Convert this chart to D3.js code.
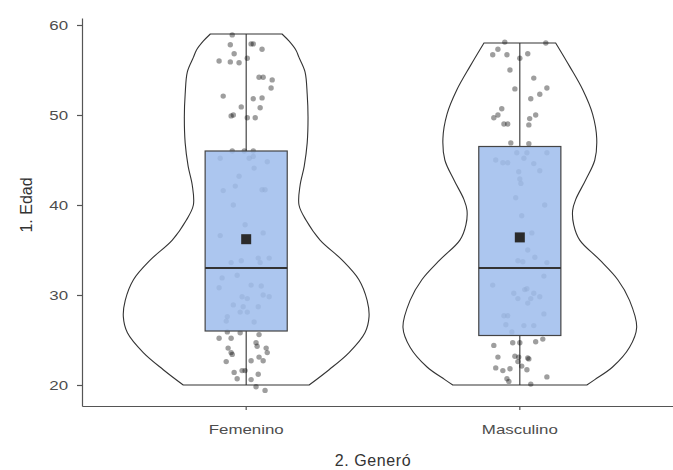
<!DOCTYPE html>
<html>
<head>
<meta charset="utf-8">
<script src="https://cdn.jsdelivr.net/npm/d3@7"></script>
<style>
  body { margin: 0; background: #fff; }
  svg { display: block; font-family: "Liberation Sans", Arial, sans-serif; }
  .axis path, .axis line { stroke: #555; stroke-width: 1.2; }
  .axis text { fill: #4d4d4d; font-size: 13.5px; }
  .axis-title { fill: #333; font-size: 16px; }
</style>
</head>
<body>
<div id="chart"></div>
<script>
// categories and summary stats
var categories = ["Femenino", "Masculino"];
var whiskerLow = [20, 20];
var q1 = [26, 25.5];
var median = [33, 33];
var q3 = [46, 46.5];
var whiskerHigh = [59, 58];
var means = [36.2, 36.4];
var yTicks = [20, 30, 40, 50, 60];

// violin outline: [age, half width in category units]
var violinFem = [[20, 0.230], [21.7, 0.303], [23.6, 0.376], [25.8, 0.434], [27.6, 0.449], [29.4, 0.442],
  [31.7, 0.412], [33.9, 0.350], [36.1, 0.270], [38.3, 0.219], [40.0, 0.193], [42.2, 0.197], [44.3, 0.212],
  [46.9, 0.223], [49.8, 0.226], [52.3, 0.223], [54.8, 0.215], [56.4, 0.193], [57.2, 0.182], [58.2, 0.157], [59, 0.131]];
var violinMasc = [[20, 0.245], [20.6, 0.274], [22.0, 0.339], [24.2, 0.401], [26.4, 0.427], [29.4, 0.401],
  [31.7, 0.358], [33.9, 0.292], [36.1, 0.219], [37.8, 0.197], [39.4, 0.193], [40.6, 0.204], [42.8, 0.241],
  [45.0, 0.274], [47.4, 0.281], [50.1, 0.266], [52.8, 0.230], [55.4, 0.182], [58, 0.131]];

// jittered raw points: [offset in category units, age]
var pointsFem = [[-0.051, 58.9], [-0.058, 57.8], [0.018, 57.9], [0.026, 57.9], [0.058, 57.3], [-0.044, 56.8],
  [-0.099, 56.0], [-0.058, 55.9], [-0.026, 55.8], [0.004, 56.3], [0.047, 54.2], [0.062, 54.2], [0.095, 53.9],
  [0.091, 53.0], [-0.084, 52.1], [0.026, 51.8], [0.058, 51.9], [-0.018, 50.9], [0.051, 50.8], [-0.055, 49.9],
  [-0.047, 50.0], [0.004, 49.7], [0.033, 49.7], [-0.051, 46.0], [-0.007, 46.0], [0.026, 46.0], [-0.095, 45.2],
  [0.011, 45.2], [0.026, 45.4], [0.077, 44.8], [0.029, 44.1], [-0.026, 43.2], [-0.040, 42.1], [-0.084, 41.6],
  [0.058, 41.7], [0.069, 41.7], [-0.047, 40.0], [-0.004, 37.8], [-0.095, 36.6], [0.062, 36.9], [-0.055, 33.6],
  [-0.018, 33.8], [0.044, 34.1], [0.084, 34.1], [0.051, 33.6], [-0.088, 31.9], [-0.033, 32.2], [0.018, 31.1],
  [0.055, 31.0], [-0.099, 30.8], [-0.015, 29.8], [0.004, 29.6], [0.062, 30.0], [0.084, 29.8], [-0.047, 28.9],
  [-0.011, 28.7], [0.044, 28.7], [-0.022, 28.1], [0.004, 28.1], [-0.069, 27.6], [-0.073, 27.1], [0.029, 27.0],
  [-0.069, 25.9], [-0.022, 25.8], [-0.099, 25.2], [-0.055, 25.2], [0.047, 25.6], [0.036, 24.7], [0.040, 24.3],
  [-0.066, 24.1], [-0.055, 23.6], [-0.051, 23.4], [0.073, 24.1], [0.077, 23.6], [-0.073, 22.6], [0.018, 22.7],
  [0.047, 23.1], [0.062, 22.7], [-0.044, 21.4], [-0.015, 21.6], [-0.004, 21.6], [0.044, 21.2], [-0.033, 20.7],
  [0.018, 20.6], [0.036, 19.8], [0.069, 19.4]];
var pointsMasc = [[-0.055, 58.1], [0.095, 58.0], [-0.080, 57.3], [-0.099, 56.7], [-0.047, 56.7], [0.0, 56.3],
  [0.029, 56.8], [-0.036, 55.0], [0.051, 54.1], [-0.018, 52.9], [0.099, 53.0], [0.073, 52.3], [0.040, 51.8],
  [-0.066, 50.7], [-0.080, 50.0], [-0.095, 49.7], [0.058, 50.0], [0.036, 49.6], [0.033, 48.9], [-0.058, 49.0],
  [-0.044, 49.0], [-0.033, 46.9], [0.033, 46.8], [-0.011, 45.8], [0.026, 45.8], [0.015, 45.2], [0.099, 45.8],
  [-0.088, 45.0], [-0.062, 44.7], [-0.044, 44.7], [0.051, 44.6], [0.073, 43.8], [-0.004, 43.7], [0.0, 42.9],
  [0.004, 42.4], [-0.015, 40.8], [0.091, 40.0], [0.007, 38.8], [0.044, 36.9], [0.029, 35.0], [0.055, 34.2],
  [-0.007, 33.8], [0.011, 33.7], [0.099, 33.6], [0.088, 32.1], [-0.099, 31.1], [0.018, 30.6], [0.026, 30.7],
  [-0.022, 30.2], [0.051, 30.2], [0.073, 29.8], [-0.007, 29.6], [0.040, 29.6], [0.029, 29.1], [0.088, 27.9],
  [-0.058, 27.7], [-0.044, 27.7], [-0.051, 26.7], [0.015, 26.6], [0.051, 26.6], [-0.029, 25.9], [-0.095, 24.4],
  [-0.026, 24.7], [0.0, 24.7], [0.058, 24.8], [0.084, 25.1], [-0.080, 23.1], [-0.018, 23.2], [-0.004, 23.1],
  [0.029, 23.0], [0.033, 22.9], [-0.007, 22.6], [0.007, 22.1], [-0.088, 21.9], [-0.062, 21.6], [-0.036, 21.8],
  [0.026, 21.7], [-0.047, 20.7], [-0.040, 20.4], [0.099, 20.9], [0.040, 20.1]];

var violins = [violinFem, violinMasc];
var points = [pointsFem, pointsMasc];

var width = 673, height = 470;
var boxHalf = 0.15;
var stretch = 1.25; // tick labels are drawn wide in the original

var svg = d3.select("#chart").append("svg")
    .attr("width", width)
    .attr("height", height);

var x = d3.scalePoint().domain(categories).range([82, 684]).padding(0.6);
var step = x.step();
var y = d3.scaleLinear().domain([20 - 21 / 9, 60 + 7 / 9]).range([406, 18]);

// axes
var yAxis = svg.append("g")
    .attr("class", "axis")
    .attr("transform", "translate(82,0)")
    .call(d3.axisLeft(y).tickValues(yTicks).tickSize(5).tickSizeOuter(0));
yAxis.selectAll("text")
    .attr("x", -14 / stretch)
    .attr("transform", "scale(" + stretch + ",1)");

var xAxis = svg.append("g")
    .attr("class", "axis axis--x")
    .attr("transform", "translate(0,406)")
    .call(d3.axisBottom(x).tickSize(4).tickPadding(14).tickSizeOuter(0));
xAxis.selectAll("text")
    .attr("transform", "scale(" + stretch + ",1)")
    .attr("x", function () { return 0; });
xAxis.selectAll(".tick")
    .attr("transform", function (d) { return "translate(" + x(d) + ",0)"; });

svg.append("text")
    .attr("class", "axis-title")
    .attr("transform", "translate(32," + y(40) + ") rotate(-90)")
    .attr("text-anchor", "middle")
    .text("1. Edad");

svg.append("text")
    .attr("class", "axis-title")
    .attr("x", 373)
    .attr("y", 466)
    .attr("text-anchor", "middle")
    .style("letter-spacing", "0.6px")
    .text("2. Generó");

var g = svg.append("g");

// violins
categories.forEach(function (cat, i) {
    var cx = x(cat);
    var prof = violins[i];
    var right = prof.map(function (d) { return [cx + d[1] * step, y(d[0])]; });
    var left = prof.slice().reverse().map(function (d) { return [cx - d[1] * step, y(d[0])]; });
    var line = d3.line().curve(d3.curveCatmullRom.alpha(0.5));
    var path = line(right) + "L" + line(left).slice(1) + "Z";
    g.append("path")
        .attr("d", path)
        .attr("fill", "#fff")
        .attr("stroke", "#333")
        .attr("stroke-width", 1.1);
});

// whiskers, outside the box only
categories.forEach(function (cat, i) {
    var cx = x(cat);
    [[whiskerLow[i], q1[i]], [q3[i], whiskerHigh[i]]].forEach(function (seg) {
        g.append("line")
            .attr("x1", cx).attr("x2", cx)
            .attr("y1", y(seg[0])).attr("y2", y(seg[1]))
            .attr("stroke", "#333").attr("stroke-width", 1.1);
    });
});

// jittered points
categories.forEach(function (cat, i) {
    g.selectAll(".pt" + i)
        .data(points[i])
        .enter().append("circle")
        .attr("cx", function (d) { return x(cat) + d[0] * step; })
        .attr("cy", function (d) { return y(d[1]); })
        .attr("r", 2.7)
        .attr("fill", "#000")
        .attr("fill-opacity", 0.38);
});

// boxes
categories.forEach(function (cat, i) {
    var cx = x(cat);
    g.append("rect")
        .attr("x", cx - boxHalf * step)
        .attr("y", y(q3[i]))
        .attr("width", 2 * boxHalf * step)
        .attr("height", y(q1[i]) - y(q3[i]))
        .attr("fill", "#a0beed")
        .attr("fill-opacity", 0.87)
        .attr("stroke", "#444")
        .attr("stroke-width", 1.2);
    g.append("line")
        .attr("x1", cx - boxHalf * step).attr("x2", cx + boxHalf * step)
        .attr("y1", y(median[i])).attr("y2", y(median[i]))
        .attr("stroke", "#333").attr("stroke-width", 2);
    g.append("rect")
        .attr("x", cx - 5).attr("y", y(means[i]) - 5)
        .attr("width", 10).attr("height", 10)
        .attr("fill", "#2b2b2b");
});
</script>
</body>
</html>
